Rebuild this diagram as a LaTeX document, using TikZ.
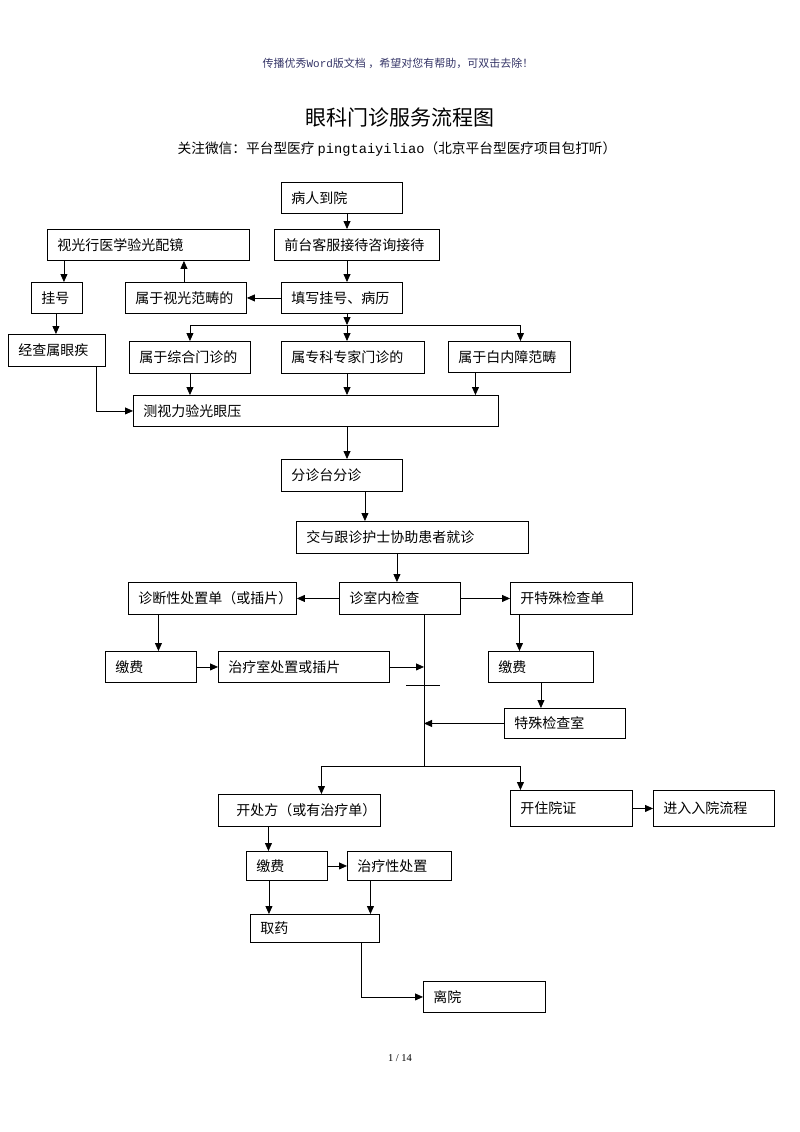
\documentclass[tikz,border=0pt]{standalone}
\usepackage{fontspec}
\setmainfont{Noto Sans CJK SC}
\newfontfamily\latinmono{Liberation Mono}
\newfontfamily\latinserif{Liberation Serif}
\usetikzlibrary{arrows.meta}

\definecolor{wmark}{RGB}{55,55,105}

\tikzset{
  box/.style={draw, line width=0.9pt, anchor=north west, inner xsep=10pt, inner ysep=0pt,
    align=left, font=\fontsize{14}{16}\selectfont},
  arr/.style={-{Triangle[length=8pt,width=7pt]}, line width=0.8pt},
  ln/.style={line width=0.8pt},
}

\begin{document}
\begin{tikzpicture}[x=1pt, y=-1pt]
    \fill[white] (0,0) rectangle (800,1132);
    \useasboundingbox (0,0) rectangle (800,1132);

    % Page header and title
    \node[font=\fontsize{11}{13}\selectfont, text=wmark] (wmark) at (398,63)
        {传播优秀{\latinmono Word}版文档 ，希望对您有帮助，可双击去除！};
    \node[font=\fontsize{21}{25}\selectfont] (title) at (400,118) {眼科门诊服务流程图};
    \node[font=\fontsize{13.7}{16}\selectfont] (subtitle) at (397,149)
        {关注微信：平台型医疗 {\latinmono pingtaiyiliao}（北京平台型医疗项目包打听）};

    % Reception
    \node[box, text width=101pt, minimum height=31pt] (arrive) at (281,182) {病人到院};
    \node[box, text width=145pt, minimum height=31pt] (desk) at (274,229) {前台客服接待咨询接待};
    \node[box, text width=182pt, minimum height=31pt] (optic) at (47,229) {视光行医学验光配镜};
    \node[box, text width=31pt, minimum height=31pt] (reg) at (31,282) {挂号};
    \node[box, text width=101pt, minimum height=31pt] (optcase) at (125,282) {属于视光范畴的};
    \node[box, text width=101pt, minimum height=31pt] (record) at (281,282) {填写挂号、病历};
    \node[box, text width=77pt, minimum height=32pt] (eyeill) at (8,334) {经查属眼疾};

    % Clinic types
    \node[box, text width=101pt, minimum height=32pt] (general) at (129,341) {属于综合门诊的};
    \node[box, text width=123pt, minimum height=32pt] (expert) at (281,341) {属专科专家门诊的};
    \node[box, text width=102pt, minimum height=31pt] (cataract) at (448,341) {属于白内障范畴};
    \node[box, text width=345pt, minimum height=31pt] (vision) at (133,395) {测视力验光眼压};

    % Triage
    \node[box, text width=101pt, minimum height=32pt] (triage) at (281,459) {分诊台分诊};
    \node[box, text width=212pt, minimum height=32pt] (nurse) at (296,521) {交与跟诊护士协助患者就诊};

    % Examination
    \node[box, text width=148pt, minimum height=32pt] (diag) at (128,582) {诊断性处置单（或插片）};
    \node[box, text width=101pt, minimum height=32pt] (exam) at (339,582) {诊室内检查};
    \node[box, text width=102pt, minimum height=32pt] (special) at (510,582) {开特殊检查单};
    \node[box, text width=71pt, minimum height=31pt] (payA) at (105,651) {缴费};
    \node[box, text width=151pt, minimum height=31pt] (treatrm) at (218,651) {治疗室处置或插片};
    \node[box, text width=85pt, minimum height=31pt] (payB) at (488,651) {缴费};
    \node[box, text width=101pt, minimum height=30pt] (specrm) at (504,708) {特殊检查室};

    % Outcome
    \node[box, text width=142pt, minimum height=32pt] (rx) at (218,794) {\hspace*{8pt}开处方（或有治疗单）};
    \node[box, text width=102pt, minimum height=36pt] (admit) at (510,790) {开住院证};
    \node[box, text width=101pt, minimum height=36pt] (inpat) at (653,790) {进入入院流程};
    \node[box, text width=61pt, minimum height=29pt] (payC) at (246,851) {缴费};
    \node[box, text width=84pt, minimum height=29pt] (therapy) at (347,851) {治疗性处置};
    \node[box, text width=109pt, minimum height=28pt] (drugs) at (250,914) {取药};
    \node[box, text width=102pt, minimum height=31pt] (leave) at (423,981) {离院};

    \node[font=\latinserif\fontsize{10.5}{12}\selectfont] (pgno) at (400,1058) {1 / 14};

    % Helper points
    \coordinate (ax) at (347,0);
    \coordinate (br) at (347,325);
    \coordinate (vx) at (424,0);
    \coordinate (tick) at (424,685);
    \coordinate (jn) at (424,766);

    % Arrows, top part
    \draw[arr] (arrive.south -| ax) -- (desk.north -| ax);
    \draw[arr] (desk.south -| ax) -- (record.north -| ax);
    \draw[arr] (record.west) -- (optcase.east);
    \draw[arr] ([xshift=-2pt]optcase.north) -- ([xshift=-2pt]optcase.north |- optic.south);
    \draw[arr] ([xshift=7pt]reg.north |- optic.south) -- ([xshift=7pt]reg.north);
    \draw[arr] ([xshift=-1pt]reg.south) -- ([xshift=-1pt]reg.south |- eyeill.north);
    \draw[arr] ([xshift=-10pt]eyeill.south east) |- (vision.west);
    \draw[arr] (record.south -| ax) -- (br);
    \draw[arr] (br) -| (general.north);
    \draw[arr] (br) -- (expert.north -| ax);
    \draw[arr] (br) -| ([xshift=11pt]cataract.north);
    \draw[arr] (general.south) -- (general.south |- vision.north);
    \draw[arr] (expert.south -| ax) -- (vision.north -| ax);
    \draw[arr] ([xshift=-34pt]cataract.south) -- ([xshift=-34pt]cataract.south |- vision.north);
    \draw[arr] (vision.south -| ax) -- (triage.north -| ax);

    % Arrows, middle part
    \draw[arr] ([xshift=23pt]triage.south) -- ([xshift=23pt]triage.south |- nurse.north);
    \draw[arr] ([xshift=-3pt]nurse.south -| exam.north) -- ([xshift=-3pt]exam.north);
    \draw[arr] (exam.west) -- (diag.east);
    \draw[arr] (exam.east) -- (special.west);
    \draw[arr] ([xshift=-54pt]diag.south) -- ([xshift=-54pt]diag.south |- payA.north);
    \draw[arr] (payA.east) -- (treatrm.west);
    \draw[arr] (treatrm.east) -- (treatrm.east -| vx);
    \draw[arr] ([xshift=-52pt]special.south) -- ([xshift=-52pt]special.south |- payB.north);
    \draw[arr] (payB.south) -- (payB.south |- specrm.north);
    \draw[arr] (specrm.west) -- (specrm.west -| vx);
    \draw[ln] (exam.south -| vx) -- (jn);
    \draw[ln] ([xshift=-18pt]tick) -- ([xshift=16pt]tick);

    % Arrows, bottom part
    \draw[arr] (jn) -| ([xshift=22pt]rx.north);
    \draw[arr] (jn) -| ([xshift=-51pt]admit.north);
    \draw[arr] (admit.east) -- (inpat.west);
    \draw[arr] ([xshift=-31pt]rx.south) -- ([xshift=-31pt]rx.south |- payC.north);
    \draw[arr] (payC.east) -- (therapy.west);
    \draw[arr] ([xshift=-18pt]payC.south) -- ([xshift=-18pt]payC.south |- drugs.north);
    \draw[arr] ([xshift=-29pt]therapy.south) -- ([xshift=-29pt]therapy.south |- drugs.north);
    \draw[arr] ([xshift=46pt]drugs.south) |- (leave.west);
\end{tikzpicture}
\end{document}
